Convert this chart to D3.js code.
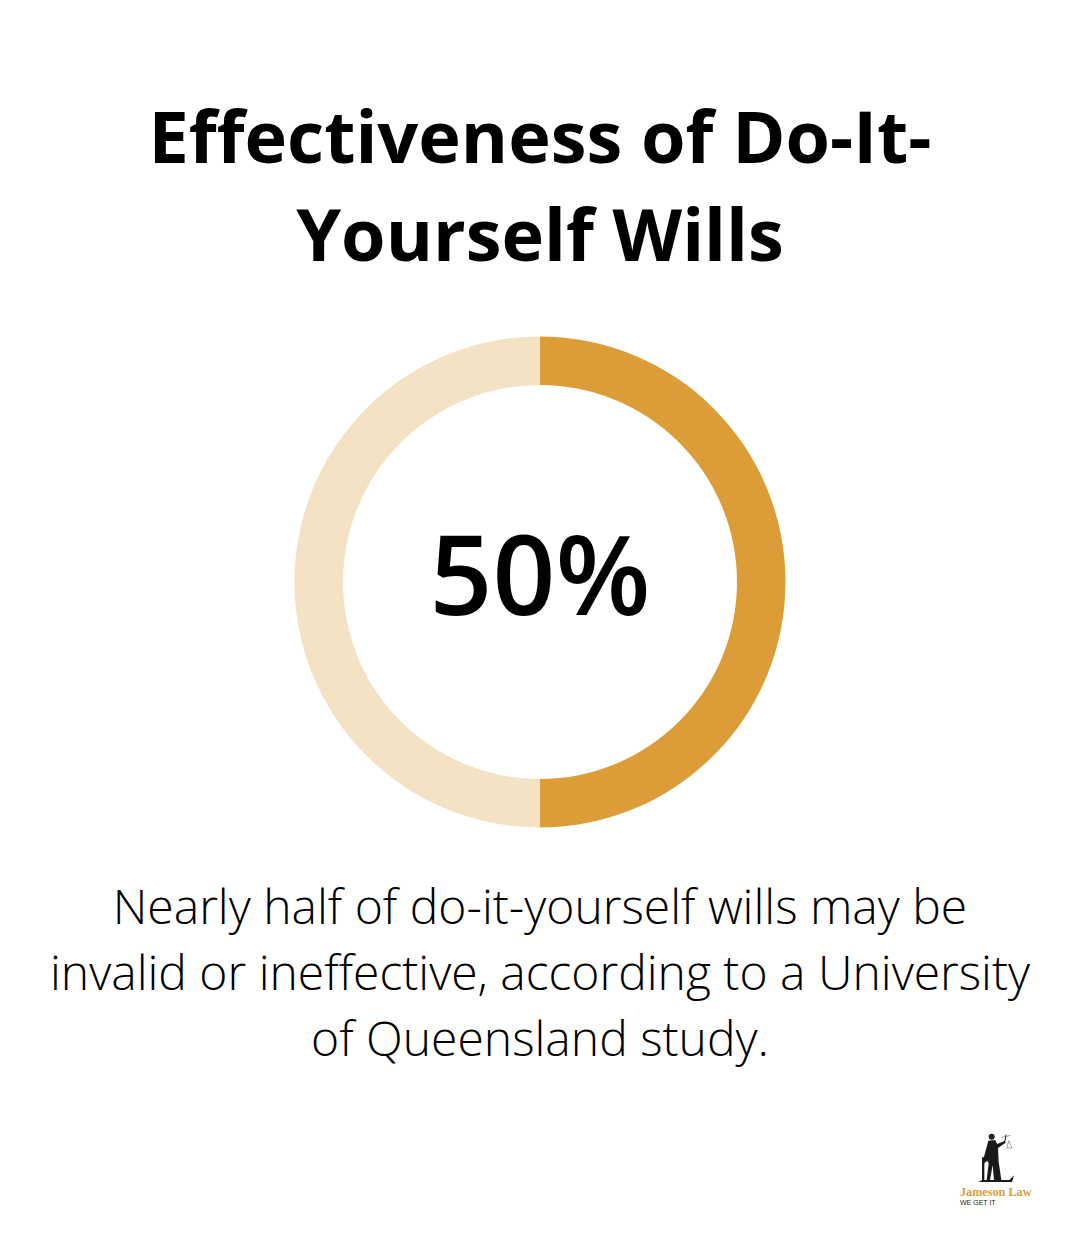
<!DOCTYPE html>
<html>
<head>
<meta charset="utf-8">
<script src="https://cdn.jsdelivr.net/npm/d3@7"></script>
<style>
  html, body { margin: 0; background: #fff; }
  text { font-family: "Open Sans", sans-serif; }
</style>
</head>
<body>
<svg id="chart" width="1080" height="1250"></svg>
<script>
var titleLines = ["Effectiveness of Do-It-", "Yourself Wills"]
var captionLines = ["Nearly half of do-it-yourself wills may be", "invalid or ineffective, according to a University", "of Queensland study."]
var shareLabels = ["invalid", "rest"]
var shareValues = [50, 50]
var shareColors = ["#dc9c37", "#f3e2c3"]
var centerLabel = "50%"

var svg = d3.select("#chart")

// title
svg.selectAll(".title").data(titleLines).enter().append("text")
  .attr("class", "title")
  .attr("x", 540)
  .attr("y", function(d, i) { return 163 + i * 98 })
  .attr("text-anchor", "middle")
  .style("font-size", "72px")
  .style("font-weight", 700)
  .style("fill", "#000")
  .text(function(d) { return d })

// donut
var pie = d3.pie().sort(null)
var arc = d3.arc().innerRadius(197).outerRadius(245.5)
var donut = svg.append("g").attr("transform", "translate(540,582)")

donut.selectAll("path").data(pie(shareValues)).enter().append("path")
  .attr("d", arc)
  .style("fill", function(d, i) { return shareColors[i] })

donut.append("text")
  .attr("y", 33)
  .attr("text-anchor", "middle")
  .style("font-size", "110px")
  .style("font-weight", 600)
  .style("fill", "#000")
  .text(centerLabel)

// caption
svg.selectAll(".caption").data(captionLines).enter().append("text")
  .attr("class", "caption")
  .attr("x", 540)
  .attr("y", function(d, i) { return 924 + i * 66 })
  .attr("text-anchor", "middle")
  .style("font-size", "48px")
  .style("font-weight", 300)
  .style("fill", "#000")
  .text(function(d) { return d })

// logo: lady justice figure, drawn in the 3x zoom coordinates of the corner
var logo = svg.append("g")
var figure = logo.append("g").attr("transform", "translate(940,1120) scale(0.3333)")

figure.append("circle").attr("cx", 155).attr("cy", 50).attr("r", 9).style("fill", "#222")
figure.append("path") // robe, with the gap between the legs
  .attr("d", "M145 62 L165 60 L172 72 L195 62 L197 68 L174 84 L176 125 L184 180 L162 180 L158 135 L150 180 L140 180 L146 130 L142 122 L133 130 L130 118 Z")
  .style("fill", "#1a1a1a")
figure.append("path") // arm up to the scales
  .attr("d", "M195 64 L198 44")
  .style("stroke", "#222").style("stroke-width", 3).style("fill", "none")
figure.append("path") // scales beam and pan
  .attr("d", "M186 52 L212 46 M207 62 L200 84 L216 84 Z")
  .style("stroke", "#444").style("stroke-width", 1.5).style("fill", "none")
figure.append("path") // big L base
  .attr("d", "M126 112 L126 180 L116 186 L216 186 L222 166 L208 180 L133 180 L133 112")
  .style("fill", "#1a1a1a")

logo.append("text").attr("x", 960).attr("y", 1196)
  .style("font-family", "'Liberation Serif', serif").style("font-size", "12.2px").style("font-weight", 700)
  .style("fill", "#dc9c37").text("Jameson Law")
logo.append("text").attr("x", 960).attr("y", 1205)
  .style("font-family", "'Liberation Sans', sans-serif").style("font-size", "7px")
  .style("fill", "#222").text("WE GET IT")
</script>
</body>
</html>
